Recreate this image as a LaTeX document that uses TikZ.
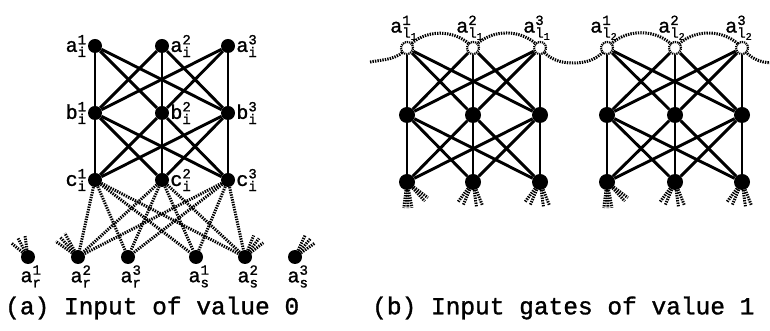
\documentclass[tikz,border=0pt]{standalone}
\usepackage{fontspec}
\setmainfont{Liberation Mono}[FakeBold=1.2]
\setmonofont{Liberation Mono}[FakeBold=1.2]
\begin{document}
\newcommand\lb[3]{$\mathtt{#1}^{\mathtt{#2}}_{\mathtt{#3}}$}
\newcommand\lbb[3]{$\mathtt{#1}^{\mathtt{#2}}_{\mathtt{l}_{\mathtt{#3}}}$}
\begin{tikzpicture}[x=1pt,y=1pt,
  fdot/.style={circle,fill=black,inner sep=0pt,minimum size=14pt},
  bdot/.style={circle,fill=black,inner sep=0pt,minimum size=16pt},
  odot/.style={circle,fill=white,draw=black,line width=2.2pt,dash pattern=on 1.2pt off 0.9pt,inner sep=0pt,minimum size=12pt},
  solidedge/.style={line width=2.9pt},
  dline/.style={line width=3pt,dash pattern=on 1.4pt off 1.1pt},
  lab/.style={font=\fontsize{20}{22}\selectfont,inner sep=1pt},
  captext/.style={font=\fontsize{24.5}{26}\selectfont,inner sep=0pt,anchor=west}]
\useasboundingbox (0,0) rectangle (770,331);
% ---------- (a) ----------
\foreach \i/\x in {1/95,2/162,3/228}{
  \node[fdot] (a\i) at (\x,285) {};
  \node[fdot] (b\i) at (\x,218) {};
  \node[fdot] (c\i) at (\x,151) {};
}
\node[lab,anchor=east] at (a1.west) {\lb{a}{1}{i}};
\node[lab,anchor=west] at (a2.east) {\lb{a}{2}{i}};
\node[lab,anchor=west] at (a3.east) {\lb{a}{3}{i}};
\node[lab,anchor=east] at (b1.west) {\lb{b}{1}{i}};
\node[lab,anchor=west] at (b2.east) {\lb{b}{2}{i}};
\node[lab,anchor=west] at (b3.east) {\lb{b}{3}{i}};
\node[lab,anchor=east] at (c1.west) {\lb{c}{1}{i}};
\node[lab,anchor=west] at (c2.east) {\lb{c}{2}{i}};
\node[lab,anchor=west] at (c3.east) {\lb{c}{3}{i}};
\foreach \u in {1,2,3}{\foreach \v in {1,2,3}{
  \draw[solidedge] (a\u) -- (b\v);
  \draw[solidedge] (b\u) -- (c\v);
}}
\node[fdot] (r1) at (28,74) {};
\node[fdot] (r2) at (78,74) {};
\node[fdot] (r3) at (128,74) {};
\node[fdot] (s1) at (196,74) {};
\node[fdot] (s2) at (245,74) {};
\node[fdot] (s3) at (295,74) {};
\node[lab,anchor=north] at ([xshift=3pt]r1.south) {\lb{a}{1}{r}};
\node[lab,anchor=north] at ([xshift=3pt]r2.south) {\lb{a}{2}{r}};
\node[lab,anchor=north] at ([xshift=3pt]r3.south) {\lb{a}{3}{r}};
\node[lab,anchor=north] at ([xshift=3pt]s1.south) {\lb{a}{1}{s}};
\node[lab,anchor=north] at ([xshift=3pt]s2.south) {\lb{a}{2}{s}};
\node[lab,anchor=north] at ([xshift=3pt]s3.south) {\lb{a}{3}{s}};
\foreach \u in {1,2,3}{
  \foreach \t in {r2,r3,s1,s2}{\draw[dline] (c\u) -- (\t);}
}
\foreach \ang in {140,118,98}{\draw[dline] (r1.\ang) -- +(\ang:14);}
\foreach \ang in {145,132,119}{\draw[dline] (r2.\ang) -- +(\ang:20);}
\foreach \ang in {68,53,38}{\draw[dline] (s2.\ang) -- +(\ang:16);}
\foreach \ang in {65,50,35}{\draw[dline] (s3.\ang) -- +(\ang:17);}
\node[captext] at (5,23) {(a) Input of value 0};
% ---------- (b) ----------
\foreach \i/\x in {1/407,2/473,3/540,4/607,5/675,6/742}{
  \coordinate (p\i) at (\x,283);
}
\coordinate (w0) at (370,269);
\coordinate (w1) at (573,268);
\coordinate (w2) at (772,268);
\draw[dline] (w0) to[out=10,in=230] (p1) to[out=50,in=130] (p2) to[out=50,in=130] (p3)
  to[out=-50,in=180] (w1) to[out=0,in=230] (p4) to[out=50,in=130] (p5) to[out=50,in=130] (p6)
  to[out=-50,in=178] (w2);
\foreach \i/\x in {1/407,2/473,3/540,4/607,5/675,6/742}{
  \node[odot] (P\i) at (p\i) {};
  \node[bdot] (Q\i) at (\x,216) {};
  \node[bdot] (R\i) at (\x,149) {};
}
\foreach \i/\s in {1/1,2/2,3/3,4/1,5/2,6/3}{
  \pgfmathtruncatemacro\g{\i>3 ? 2 : 1}
  \node[lab,anchor=south,inner sep=0pt] at ([xshift=-3pt,yshift=8pt]p\i) {\lbb{a}{\s}{\g}};
}
\foreach \g in {0,3}{
  \foreach \u in {1,2,3}{\foreach \v in {1,2,3}{
    \pgfmathtruncatemacro\uu{\u+\g}
    \pgfmathtruncatemacro\vv{\v+\g}
    \draw[solidedge] (P\uu) -- (Q\vv);
    \draw[solidedge] (Q\uu) -- (R\vv);
  }}
  \pgfmathtruncatemacro\ka{1+\g}
  \pgfmathtruncatemacro\kb{2+\g}
  \pgfmathtruncatemacro\kc{3+\g}
  \foreach \ang in {-97,-88,-79,-47,-37}{\draw[dline] (R\ka.\ang) -- +(\ang:18);}
  \foreach \ang in {-127,-113,-82,-68}{\draw[dline] (R\kb.\ang) -- +(\ang:17);}
  \foreach \ang in {-127,-113,-82,-68}{\draw[dline] (R\kc.\ang) -- +(\ang:17);}
}
\node[captext] at (372,23) {(b) Input gates of value 1};
\end{tikzpicture}
\end{document}
